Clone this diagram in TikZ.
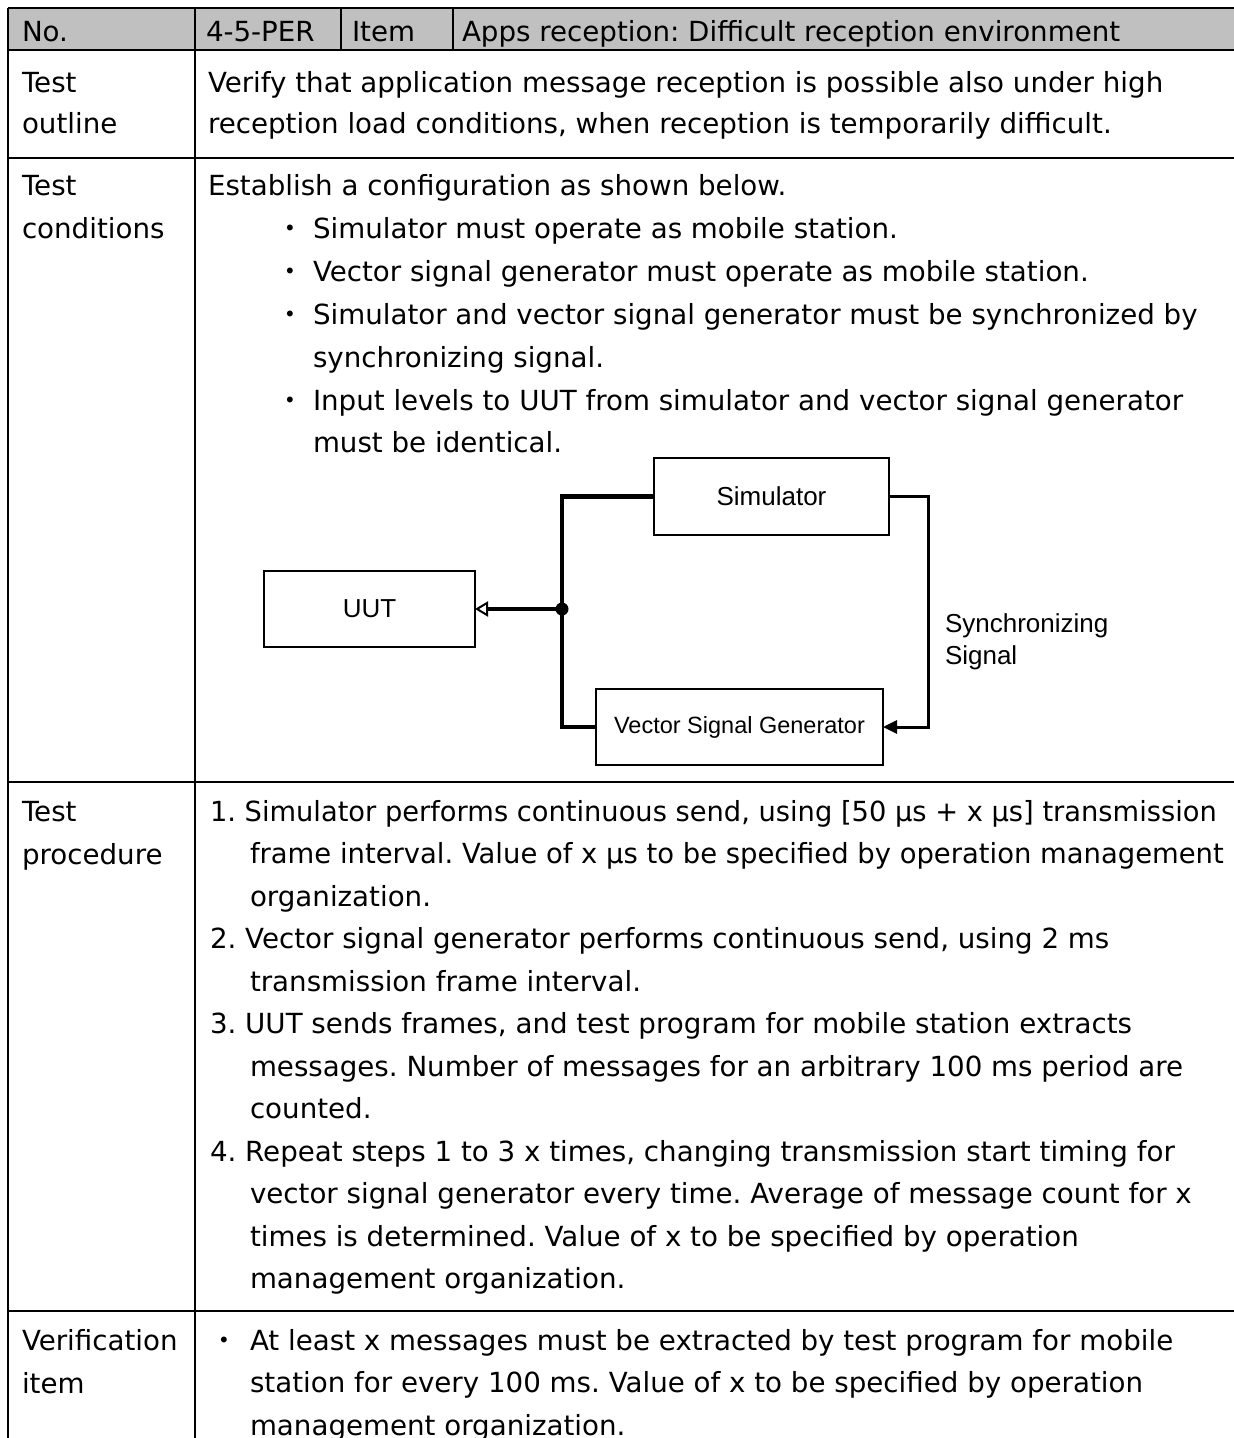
\documentclass[tikz,border=0pt]{standalone}
\usepackage{fontspec}
\setmainfont{DejaVu Sans}
\newfontfamily\arialf{Liberation Sans}
\newfontfamily\cjkf{Noto Sans CJK JP}
\usetikzlibrary{arrows.meta}
\frenchspacing
\begin{document}
\begin{tikzpicture}[x=1pt,y=-1pt,
  font=\fontsize{27.7}{42.5}\selectfont,
  txt/.style={anchor=base west,inner sep=0,outer sep=0},
  bul/.style={anchor=base,inner sep=0,outer sep=0,font=\cjkf\fontsize{27.7}{42.5}\selectfont},
  rule/.style={line width=2.6pt},
  dbox/.style={draw,line width=2pt,inner sep=0,outer sep=0,font=\arialf\fontsize{26}{30}\selectfont},
  feed/.style={line width=4.5pt,line join=miter},
  syncl/.style={line width=3pt,line join=miter}]
\useasboundingbox (0,0) rectangle (1234,1438);
% header fill
\fill[fill={rgb,255:red,192;green,192;blue,192}] (8,8) rectangle (1234,50);
% table rules
\draw[rule] (8,8) -- (1234,8);
\draw[rule] (8,50) -- (1234,50);
\draw[rule] (8,158) -- (1234,158);
\draw[rule] (8,782) -- (1234,782);
\draw[rule] (8,1311) -- (1234,1311);
\draw[rule] (8,8) -- (8,1438);
\draw[rule] (195,8) -- (195,1438);
\draw[line width=2pt] (341,8) -- (341,50);
\draw[line width=2pt] (453,8) -- (453,50);
% header text
\node[txt] (h1) at (22,41) {No.};
\node[txt] (h2) at (206,41) {4-5-PER};
\node[txt] (h3) at (352,41) {Item};
\node[txt] (h4) at (462,41) {Apps reception: Difficult reception environment};
% left labels
\node[txt] (l1) at (22,92) {Test};
\node[txt] (l2) at (22,133) {outline};
\node[txt] (l3) at (22,195) {Test};
\node[txt] (l4) at (22,238) {conditions};
\node[txt] (l5) at (22,821) {Test};
\node[txt] (l6) at (22,864) {procedure};
\node[txt] (l7) at (22,1350) {Verification};
\node[txt] (l8) at (22,1393) {item};
% outline
\node[txt] (o1) at (208,92) {Verify that application message reception is possible also under high};
\node[txt] (o2) at (208,133) {reception load conditions, when reception is temporarily difficult.};
% conditions
\node[txt] (c0) at (208,195) {Establish a configuration as shown below.};
\node[bul] (b1) at (290,238) {・};
\node[txt] (c1) at (313,238) {Simulator must operate as mobile station.};
\node[bul] (b2) at (290,281) {・};
\node[txt] (c2) at (313,281) {Vector signal generator must operate as mobile station.};
\node[bul] (b3) at (290,324) {・};
\node[txt] (c3) at (313,324) {Simulator and vector signal generator must be synchronized by};
\node[txt] (c4) at (313,367) {synchronizing signal.};
\node[bul] (b4) at (290,410) {・};
\node[txt] (c5) at (313,410) {Input levels to UUT from simulator and vector signal generator};
\node[txt] (c6) at (313,452) {must be identical.};
% diagram
\node[dbox,minimum width=211pt,minimum height=76pt] (uut) at (369.5,609) {UUT};
\node[dbox,minimum width=235pt,minimum height=77pt] (sim) at (771.5,496.5) {Simulator};
\node[dbox,minimum width=287pt,minimum height=76pt,font=\arialf\fontsize{23.5}{28}\selectfont] (vsg) at (739.5,727) {Vector Signal Generator};
\coordinate (j) at (562,609);
\coordinate (s1) at (928,496.5);
\draw[feed] (sim.west) -| (j) |- (vsg.west);
\fill (j) circle (6.5);
\draw[feed,-{Triangle[open,length=13pt,width=15pt,line width=2pt]}] (j) -- (uut.east);
\draw[syncl,-{Triangle[length=14pt,width=13pt]}] (sim.east) -- (s1) |- (vsg.east);
\node[txt,align=left,font=\arialf\fontsize{26}{32}\selectfont] (sync) at (945,664) {Synchronizing\\Signal};
% procedure
\node[txt] (p1) at (210,821) {\scalebox{0.985}[1]{1. Simulator performs continuous send, using [50 µs + x µs] transmission}};
\node[txt] (p2) at (250,863.5) {\scalebox{0.99}[1]{frame interval. Value of x µs to be specified by operation management}};
\node[txt] (p3) at (250,906) {organization.};
\node[txt] (p4) at (210,948.5) {2. Vector signal generator performs continuous send, using 2 ms};
\node[txt] (p5) at (250,991) {transmission frame interval.};
\node[txt] (p6) at (210,1033.5) {3. UUT sends frames, and test program for mobile station extracts};
\node[txt] (p7) at (250,1076) {messages. Number of messages for an arbitrary 100 ms period are};
\node[txt] (p8) at (250,1118.5) {counted.};
\node[txt] (p9) at (210,1161) {4. Repeat steps 1 to 3 x times, changing transmission start timing for};
\node[txt] (p10) at (250,1203.5) {vector signal generator every time. Average of message count for x};
\node[txt] (p11) at (250,1246) {times is determined. Value of x to be specified by operation};
\node[txt] (p12) at (250,1288.5) {management organization.};
% verification
\node[bul] (b5) at (224,1350) {・};
\node[txt] (v1) at (250,1350) {At least x messages must be extracted by test program for mobile};
\node[txt] (v2) at (250,1392.5) {station for every 100 ms. Value of x to be specified by operation};
\node[txt] (v3) at (250,1435) {management organization.};
\end{tikzpicture}
\end{document}
